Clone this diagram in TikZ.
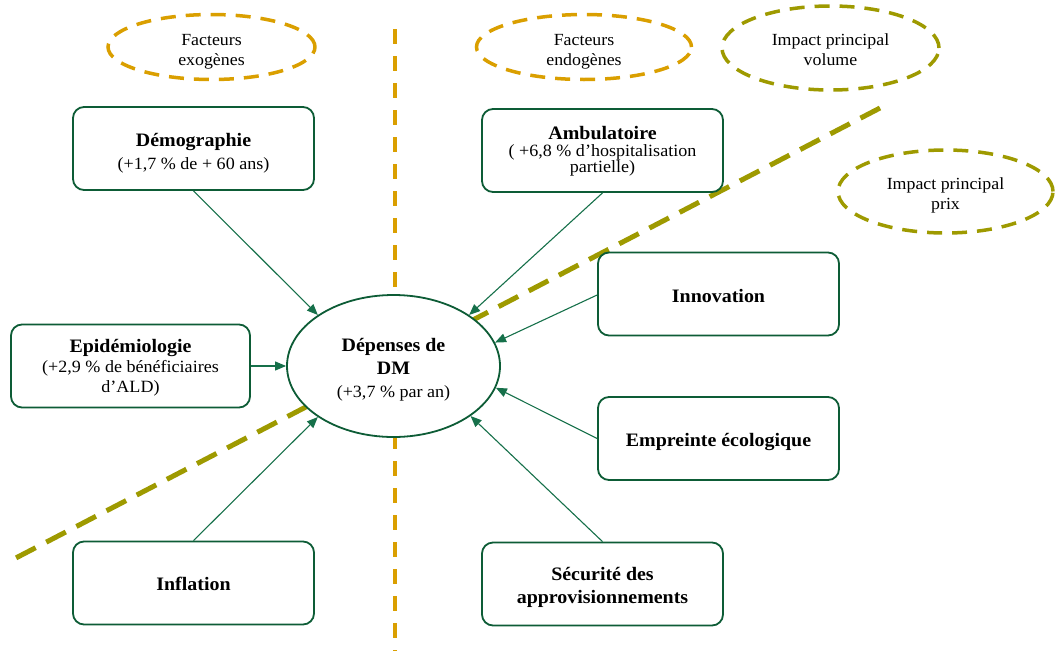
\documentclass[tikz,border=0pt]{standalone}
\usepackage{fontspec}
\setmainfont{Liberation Serif}[FakeStretch=1.05]
\usetikzlibrary{arrows.meta,shapes.geometric}
\definecolor{gold}{HTML}{DA9F00}
\definecolor{olive2}{HTML}{9E9A00}
\definecolor{boxgreen}{HTML}{0D5C36}
\definecolor{arrgreen}{HTML}{16704A}
\newcommand{\dnstrut}[1]{\rule{0pt}{#1}}
\tikzset{
  boxnode/.style={draw=boxgreen, line width=1.8pt, rounded corners=11pt, fill=white,
    minimum width=241pt, minimum height=83pt, align=center, inner sep=2pt,
    font=\fontsize{17.2}{22.5}\selectfont},
  tagell/.style={ellipse, dashed, line width=3.5pt, dash pattern=on 15pt off 10pt,
    align=center, inner sep=0pt, font=\fontsize{17}{20}\selectfont},
  goldell/.style={tagell, draw=gold},
  oliveell/.style={tagell, draw=olive2},
  arr/.style={draw=arrgreen, line width=1.1pt, -{Triangle[length=11pt,width=9pt]}},
  bt/.style={font=\bfseries\fontsize{19}{23}\selectfont}
}
\begin{document}
\begin{tikzpicture}[x=1pt,y=-1pt]
\useasboundingbox (0,0) rectangle (1056,651);
% separators
\coordinate (vtop) at (395,29);
\coordinate (vbot) at (395,651);
\coordinate (otop) at (880,108);
\coordinate (obot) at (12,560);
\draw[gold, line width=4pt, dash pattern=on 15pt off 12pt] (vtop) -- (vbot);
\draw[olive2, line width=5pt, dash pattern=on 22pt off 12pt] (otop) -- (obot);
% tag ellipses
\node[goldell, minimum width=207pt, minimum height=65pt] (exo) at (211.5,47) {\dnstrut{21pt}Facteurs\\exogènes};
\node[goldell, minimum width=215pt, minimum height=65pt] (endo) at (584,47) {\dnstrut{21pt}Facteurs\\endogènes};
\node[oliveell, minimum width=217pt, minimum height=84pt] (vol) at (830.5,48) {\dnstrut{15.5pt}Impact principal\\volume};
\node[oliveell, minimum width=215pt, minimum height=83pt] (prix) at (945.5,191.5) {\dnstrut{19.5pt}Impact principal\\prix};
% boxes
\node[boxnode] (demo) at (193.5,148.5) {{\bfseries\fontsize{19}{23}\selectfont\dnstrut{23pt}Démographie}\\(+1,7 \% de + 60 ans)};
\node[boxnode, font=\fontsize{17.2}{16.5}\selectfont] (ambu) at (602.5,150.5) {{\bfseries\fontsize{19}{17}\selectfont\dnstrut{15.5pt}Ambulatoire}\\( +6,8 \% d’hospitalisation\\partielle)};
\node[boxnode, font=\fontsize{17.2}{20}\selectfont, minimum width=239pt] (epid) at (130.5,366) {{\bfseries\fontsize{19}{21}\selectfont\dnstrut{16pt}Epidémiologie}\\(+2,9 \% de bénéficiaires\\d’ALD)};
\node[boxnode, bt] (inno) at (718.5,294) {\dnstrut{16.8pt}Innovation};
\node[boxnode, bt] (empr) at (718.5,438.5) {\dnstrut{19.2pt}Empreinte écologique};
\node[boxnode, bt] (secu) at (602.5,584) {\dnstrut{19.2pt}Sécurité des\\approvisionnements};
\node[boxnode, bt] (infl) at (193.5,583) {\dnstrut{14.8pt}Inflation};
% central ellipse
\node[ellipse, draw=boxgreen, line width=1.8pt, fill=white, minimum width=213pt, minimum height=142pt,
  inner sep=0pt, align=center, font=\fontsize{17.2}{23}\selectfont] (dm) at (393.5,366)
  {{\bfseries\fontsize{19}{23}\selectfont\dnstrut{21.2pt}Dépenses de}\\{\bfseries\fontsize{19}{23}\selectfont DM}\\(+3,7 \% par an)};
% arrows
\draw[arr] (demo.south) -- (dm.146);
\draw[arr] (ambu.south) -- (dm.34);
\draw[arr] ([yshift=-1pt]inno.west) -- (dm.13);
\draw[arr] (empr.west) -- (dm.-12);
\draw[arr] (secu.north) -- (dm.-33);
\draw[arr] (infl.north) -- (dm.-146);
\draw[arr] (epid.east) -- (dm.180);
\end{tikzpicture}
\end{document}
